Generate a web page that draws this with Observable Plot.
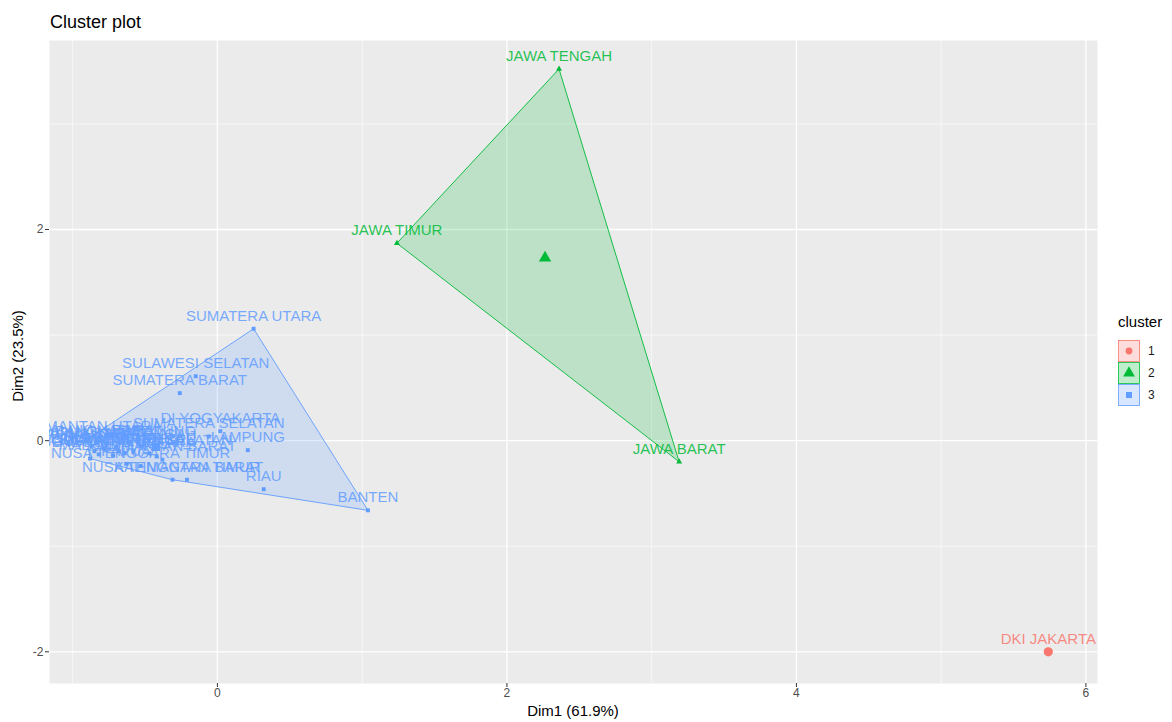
<!DOCTYPE html>
<html>
<head>
<meta charset="utf-8">
<script src="https://cdn.jsdelivr.net/npm/d3@7"></script>
<script src="https://cdn.jsdelivr.net/npm/@observablehq/plot@0.6"></script>
<style>
  body { margin: 0; background: #ffffff; font-family: "Liberation Sans", Arial, sans-serif; }
  #wrap { position: relative; width: 1172px; height: 722px; overflow: hidden; }
  .abs { position: absolute; line-height: 1; white-space: nowrap; }
  #title { left: 50px; top: 13px; font-size: 18px; color: #000; }
  #xtitle { left: 0; width: 1146px; text-align: center; top: 703px; font-size: 15px; color: #000; }
  #ytitle { left: 17px; top: 356px; font-size: 15px; color: #000; transform: translate(-50%, -50%) rotate(-90deg); }
  #legend { left: 1118px; top: 314px; font-size: 15px; color: #000; }
  .lrow { display: flex; align-items: center; height: 22px; }
  .lrow span { font-size: 12px; margin-left: 8px; color: #1a1a1a; }
</style>
</head>
<body>
<div id="wrap">
  <div id="plot"></div>
  <div id="title" class="abs">Cluster plot</div>
  <div id="xtitle" class="abs">Dim1 (61.9%)</div>
  <div id="ytitle" class="abs">Dim2 (23.5%)</div>
  <div id="legend" class="abs"></div>
</div>
<script>
// ---- data ----
const provinces = [
  "JAWA TENGAH", "JAWA TIMUR", "JAWA BARAT", "DKI JAKARTA",
  "SUMATERA UTARA", "SULAWESI SELATAN", "SUMATERA BARAT", "BANTEN", "RIAU",
  "LAMPUNG", "DI YOGYAKARTA", "SUMATERA SELATAN", "KALIMANTAN TIMUR", "NUSA TENGGARA BARAT",
  "KALIMANTAN UTARA", "MALUKU", "PAPUA BARAT", "SULAWESI BARAT", "GORONTALO",
  "MALUKU UTARA", "BENGKULU", "KEP. BANGKA BELITUNG", "SULAWESI TENGGARA", "KALIMANTAN TENGAH",
  "SULAWESI UTARA", "PAPUA", "SULAWESI TENGAH", "BALI", "JAMBI",
  "NUSA TENGGARA TIMUR", "KEP. RIAU", "KALIMANTAN SELATAN", "ACEH", "KALIMANTAN BARAT"
];
const dim1 = [
  2.36, 1.24, 3.19, 5.74,
  0.25, -0.15, -0.26, 1.04, 0.32,
  0.21, 0.02, -0.06, -0.21, -0.31,
  -0.90, -0.88, -0.87, -0.85, -0.82,
  -0.84, -0.78, -0.76, -0.72, -0.70,
  -0.68, -0.63, -0.64, -0.62, -0.58,
  -0.53, -0.52, -0.47, -0.42, -0.38
];
const dim2 = [
  3.52, 1.87, -0.20, -2.00,
  1.06, 0.61, 0.45, -0.66, -0.46,
  -0.09, 0.09, 0.04, -0.37, -0.37,
  0.01, -0.17, -0.05, -0.10, -0.13,
  -0.02, -0.08, -0.03, -0.14, -0.06,
  -0.10, -0.22, -0.12, -0.02, -0.10,
  -0.24, -0.05, -0.12, -0.15, -0.18
];
const clusterOf = [
  "2", "2", "2", "1",
  "3", "3", "3", "3", "3",
  "3", "3", "3", "3", "3",
  "3", "3", "3", "3", "3",
  "3", "3", "3", "3", "3",
  "3", "3", "3", "3", "3",
  "3", "3", "3", "3", "3"
];
const clusterLevels = ["1", "2", "3"];
const clusterColors = ["#F8766D", "#00BA38", "#619CFF"];
const clusterSymbols = ["circle", "triangle", "square"];
const xTicks = [0, 2, 4, 6];
const xMinor = [-1, 1, 3, 5];
const yTicks = [-2, 0, 2];
const yMinor = [-1, 1, 3];

// ---- build table ----
const data = provinces.map((name, i) => ({ name, x: dim1[i], y: dim2[i], cluster: clusterOf[i] }));
const centers = clusterLevels.map(c => {
  const pts = data.filter(d => d.cluster === c);
  return { cluster: c, x: d3.mean(pts, d => d.x), y: d3.mean(pts, d => d.y) };
});

const chart = Plot.plot({
  width: 1172,
  height: 722,
  marginTop: 40,
  marginBottom: 39,
  marginLeft: 49,
  marginRight: 75,
  style: { fontFamily: "Liberation Sans, Arial, sans-serif", color: "#4d4d4d", background: "transparent" },
  x: { domain: [-1.16, 6.08], label: null },
  y: { domain: [-2.30, 3.79], label: null },
  color: { domain: clusterLevels, range: clusterColors },
  symbol: { domain: clusterLevels, range: clusterSymbols },
  marks: [
    Plot.frame({ fill: "#EBEBEB", stroke: "none" }),
    Plot.ruleX(xMinor, { stroke: "#ffffff", strokeWidth: 0.6 }),
    Plot.ruleY(yMinor, { stroke: "#ffffff", strokeWidth: 0.6 }),
    Plot.ruleX(xTicks, { stroke: "#ffffff", strokeWidth: 1.3 }),
    Plot.ruleY(yTicks, { stroke: "#ffffff", strokeWidth: 1.3 }),
    Plot.hull(data, { x: "x", y: "y", z: "cluster", fill: "cluster", stroke: "cluster", fillOpacity: 0.2, strokeWidth: 0.9, clip: true }),
    Plot.dot(data, { x: "x", y: "y", fill: "cluster", symbol: "cluster", r: 2.2, stroke: "none", clip: true }),
    Plot.text(data, { x: "x", y: "y", text: "name", fill: "cluster", dy: -13, fontSize: 15, fillOpacity: 0.85, clip: true }),
    Plot.dot(centers, { x: "x", y: "y", fill: "cluster", symbol: "cluster", r: 4.6, stroke: "none", clip: true }),
    Plot.axisX(xTicks, { tickSize: 4, tickPadding: 1, fontSize: 12, stroke: "#333333", fill: "#4d4d4d", tickFormat: d => String(d), label: null }),
    Plot.axisY(yTicks, { tickSize: 4, tickPadding: 2, fontSize: 12, stroke: "#333333", fill: "#4d4d4d", tickFormat: d => String(d), label: null })
  ]
});
document.getElementById("plot").appendChild(chart);

// ---- legend ----
const legend = d3.select("#legend");
legend.append("div").text("cluster").style("margin-bottom", "11px");
clusterLevels.forEach((c, i) => {
  const row = legend.append("div").attr("class", "lrow");
  const svg = row.append("svg").attr("width", 22).attr("height", 22);
  const col = d3.color(clusterColors[i]);
  const light = d3.interpolateRgb("#ffffff", clusterColors[i])(0.25);
  svg.append("rect").attr("x", 0.5).attr("y", 0.5).attr("width", 21).attr("height", 21)
    .attr("fill", light).attr("stroke", col.toString()).attr("stroke-width", 0.8);
  const sym = [d3.symbolCircle, d3.symbolTriangle, d3.symbolSquare][i];
  svg.append("path").attr("transform", "translate(11,11)")
    .attr("d", d3.symbol(sym, i === 1 ? 60 : 36)())
    .attr("fill", col.toString());
  row.append("span").text(c);
});
</script>
</body>
</html>
